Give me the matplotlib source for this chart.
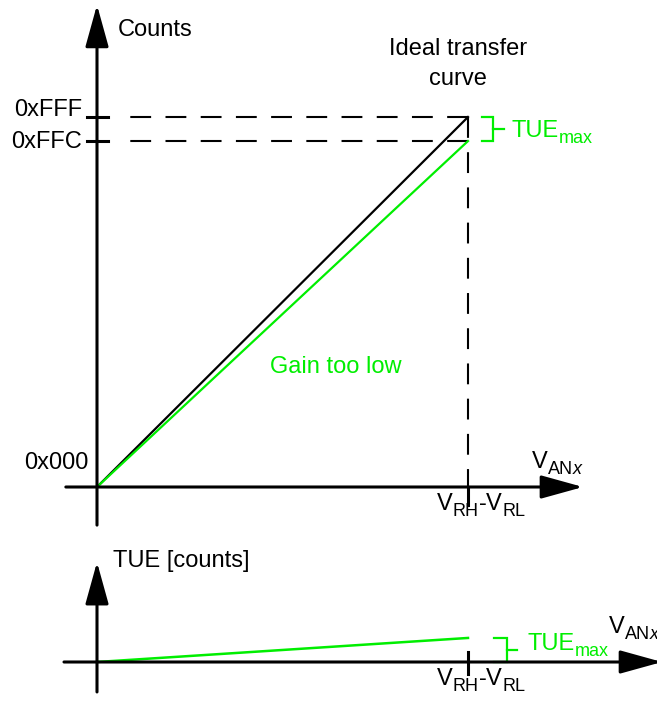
import numpy as np
import matplotlib
matplotlib.use('Agg')
import matplotlib.pyplot as plt

plt.rcParams['font.family'] = ['Liberation Sans', 'DejaVu Sans']

# schematic transfer curve: input normalised to V_RH - V_RL, counts on a schematic scale
v_in = np.array([0.0, 1.0])
ideal_counts = np.array([0.0, 100.0])     # ends at 0xFFF
low_gain_counts = np.array([0.0, 93.5])   # ends at 0xFFC
tue = ideal_counts - low_gain_counts
count_labels = ['0x000', '0xFFC', '0xFFF']

GREEN = '#00ee00'
FS = 17
FS_SUB = 13


def axis_arrow(ax, start, tip):
    ax.annotate('', xy=tip, xytext=start,
                arrowprops=dict(arrowstyle='-|>,head_length=2.6,head_width=0.72',
                                color='black', lw=2.2, shrinkA=0, shrinkB=0,
                                mutation_scale=10),
                annotation_clip=False)


def sub_text(ax, x, y, parts, color='black', ha='left'):
    # parts: (text, is_subscript, style)
    renderer = ax.figure.canvas.get_renderer()
    arts, dx = [], 0.0
    for s, sub, style in parts:
        t = ax.annotate(s, xy=(x, y), xytext=(dx, -4.5 if sub else 0),
                        textcoords='offset points', fontsize=FS_SUB if sub else FS,
                        fontstyle=style, color=color, ha='left', va='baseline',
                        annotation_clip=False)
        dx += t.get_window_extent(renderer).width * 72 / ax.figure.dpi
        arts.append(t)
    if ha == 'center':
        for t in arts:
            ox, oy = t.xyann
            t.xyann = (ox - dx / 2, oy)


def bracket(ax, x0, x1, x2, ylo, yhi):
    ax.plot([x0, x1, x1, x0], [yhi, yhi, ylo, ylo], color=GREEN, lw=1.6,
            clip_on=False, solid_joinstyle='miter')
    ym = (ylo + yhi) / 2
    ax.plot([x1, x2], [ym, ym], color=GREEN, lw=1.6, clip_on=False)


vrange = [('V', False, 'normal'), ('RH', True, 'normal'), ('-', False, 'normal'),
          ('V', False, 'normal'), ('RL', True, 'normal')]
vanx = [('V', False, 'normal'), ('AN', True, 'normal'), ('x', True, 'italic')]
tue_max = [('TUE', False, 'normal'), ('max', True, 'normal')]

fig = plt.figure(figsize=(6.57, 7.02), dpi=100)
ax = fig.add_axes([0, 162 / 702, 1, 540 / 702])
ax2 = fig.add_axes([0, 0, 1, 162 / 702])
for a in (ax, ax2):
    a.set_xlim(-97 / 371, 560 / 371)
    a.axis('off')
ax.set_ylim(-53 / 3.7, 487 / 3.7)
ax2.set_ylim(-40 / 3.7, 122 / 3.7)
fig.canvas.draw()

# --- top panel: transfer curve ---
top, low = ideal_counts[-1], low_gain_counts[-1]
dash = (0, (10, 6.9))
for yv in (top, low):
    ax.plot([v_in[-1], 0.078], [yv, yv], color='black', lw=1.5, ls=dash)
    ax.plot([-0.027, 0.03], [yv, yv], color='black', lw=2.2)
ax.plot([v_in[-1], v_in[-1]], [top, 0], color='black', lw=1.5, ls=dash)
ax.plot([v_in[-1], v_in[-1]], [0, -4.9], color='black', lw=2.2)

axis_arrow(ax, (0, -10.3), (0, 130.3))
axis_arrow(ax, (-0.084, 0), (1.31, 0))

ax.plot(v_in, ideal_counts, color='black', lw=1.6)
ax.plot(v_in, low_gain_counts, color=GREEN, lw=1.6)

ax.text(0.057, 123.5, 'Counts', fontsize=FS, ha='left', va='center')
ax.text(-0.04, top + 1.9, count_labels[2], fontsize=FS, ha='right', va='center')
ax.text(-0.04, low - 0.3, count_labels[1], fontsize=FS, ha='right', va='center')
ax.text(-0.022, 6.5, count_labels[0], fontsize=FS, ha='right', va='center')
ax.text(0.973, 114.3, 'Ideal transfer\ncurve', fontsize=FS, ha='center',
        va='center', linespacing=1.45)
ax.text(0.644, 32.4, 'Gain too low', fontsize=FS, ha='center', va='center',
        color=GREEN)

bracket(ax, 1.038, 1.067, 1.097, low, top)
sub_text(ax, 1.118, 94.6, tue_max, color=GREEN)
sub_text(ax, 1.172, 5.1, vanx)
sub_text(ax, 1.035, -6.2, vrange, ha='center')

# --- bottom panel: total unadjusted error ---
ax2.plot([v_in[-1], v_in[-1]], [2.7, -3.2], color='black', lw=2.2)
axis_arrow(ax2, (0, -8.1), (0, 27.0))
axis_arrow(ax2, (-0.089, 0), (1.523, 0))
ax2.plot(v_in, tue, color=GREEN, lw=1.8)

ax2.text(0.043, 25.7, 'TUE [counts]', fontsize=FS, ha='left', va='baseline')
bracket(ax2, 1.070, 1.105, 1.132, 0, tue[-1])
sub_text(ax2, 1.16, 3.2, tue_max, color=GREEN)
sub_text(ax2, 1.38, 7.8, vanx)
sub_text(ax2, 1.035, -6.2, vrange, ha='center')

fig.savefig('out.png', dpi=100)
